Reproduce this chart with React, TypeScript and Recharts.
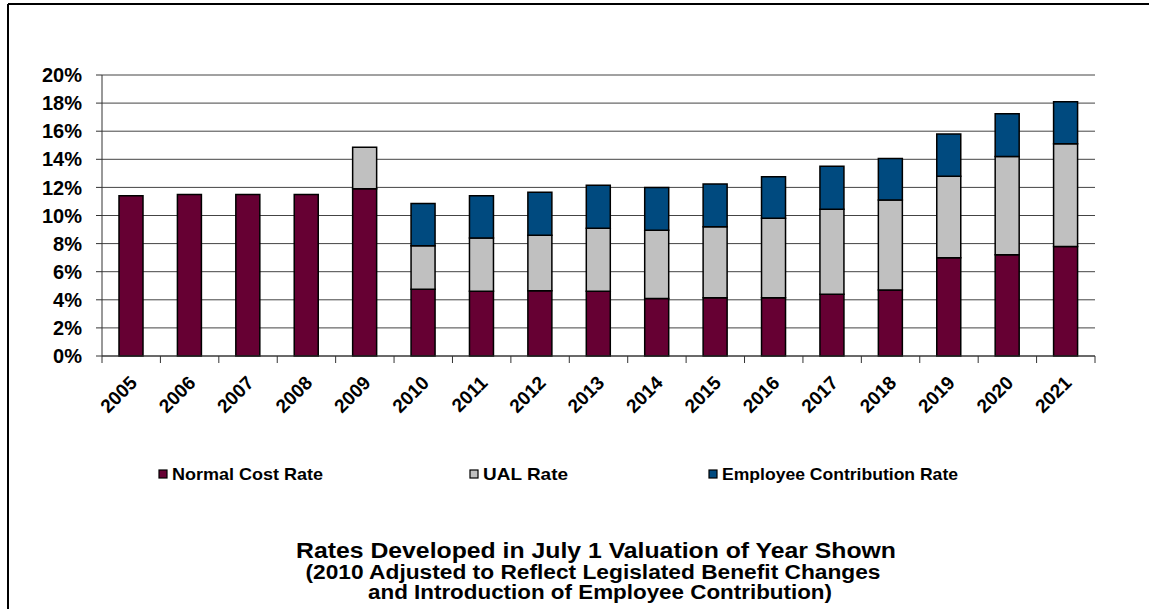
import React from 'react';
import { BarChart, Bar, XAxis, YAxis, CartesianGrid } from 'recharts';

const years = ['2005', '2006', '2007', '2008', '2009', '2010', '2011', '2012', '2013', '2014', '2015', '2016', '2017', '2018', '2019', '2020', '2021'];
const normalCost = [11.4, 11.5, 11.5, 11.5, 11.9, 4.75, 4.6, 4.65, 4.6, 4.1, 4.15, 4.15, 4.4, 4.7, 7.0, 7.2, 7.8];
const ualRate = [0, 0, 0, 0, 2.95, 3.1, 3.8, 3.95, 4.5, 4.85, 5.05, 5.65, 6.05, 6.4, 5.8, 7.0, 7.3];
const employeeRate = [0, 0, 0, 0, 0, 3.0, 3.0, 3.05, 3.05, 3.05, 3.05, 2.95, 3.05, 2.95, 3.0, 3.05, 3.0];
const yTicks = [0, 2, 4, 6, 8, 10, 12, 14, 16, 18, 20];

const seriesNames = ['Normal Cost Rate', 'UAL Rate', 'Employee Contribution Rate'];
const seriesColors = ['#660033', '#C0C0C0', '#004A7F'];

const titleLines = [
  'Rates Developed in July 1 Valuation of Year Shown',
  '(2010 Adjusted to Reflect Legislated Benefit Changes',
  'and Introduction of Employee Contribution)',
];

const data = years.map((year, i) => ({
  year,
  normal: normalCost[i],
  ual: ualRate[i],
  employee: employeeRate[i],
}));

const FONT = '"Liberation Sans", Arial, sans-serif';

const YearTick = (props: any) => {
  const { x, y, payload, index } = props;
  const half = payload && payload.offset ? payload.offset : 993 / 17 / 2;
  const lx = x + 7;
  const ly = y + 28;
  return (
    <g>
      {index === 0 && <line x1={x - half} y1={y} x2={x - half} y2={y + 7} stroke="#333" strokeWidth={1} />}
      <line x1={x + half} y1={y} x2={x + half} y2={y + 7} stroke="#333" strokeWidth={1} />
      <text
        x={lx}
        y={ly}
        textAnchor="end"
        transform={`rotate(-45, ${lx}, ${ly})`}
        fontSize={19}
        fontWeight="bold"
        fontFamily={FONT}
        fill="#000"
      >
        {payload.value}
      </text>
    </g>
  );
};

const legendX = [159, 470, 709];
const legendWidths = [151, 85, 236];

const App: React.FC = () => {
  return (
    <div style={{ position: 'absolute', left: 0, top: 0, width: 1149, height: 609, background: '#fff' }}>
      <BarChart
        width={1149}
        height={609}
        data={data}
        margin={{ top: 75, right: 54, bottom: 0, left: 0 }}
      >
        <CartesianGrid vertical={false} stroke="#444" strokeWidth={1} />
        <YAxis
          width={102}
          domain={[0, 20]}
          ticks={yTicks}
          interval={0}
          tickFormatter={(v: number) => `${v}%`}
          tickSize={6}
          tickMargin={14}
          tick={{ fontSize: 20, fontWeight: 'bold', fill: '#000', fontFamily: FONT }}
          axisLine={{ stroke: '#333' }}
          tickLine={{ stroke: '#333' }}
        />
        <YAxis
          yAxisId="frame"
          orientation="right"
          width={0}
          domain={[0, 1]}
          tick={false}
          tickLine={false}
          axisLine={{ stroke: '#555' }}
        />
        <XAxis
          dataKey="year"
          height={253}
          interval={0}
          tickLine={false}
          tickSize={0}
          tickMargin={0}
          axisLine={{ stroke: '#333' }}
          tick={<YearTick />}
        />
        <Bar dataKey="normal" name={seriesNames[0]} stackId="a" fill={seriesColors[0]} stroke="#000" strokeWidth={1.5} barSize={24} isAnimationActive={false} />
        <Bar dataKey="ual" name={seriesNames[1]} stackId="a" fill={seriesColors[1]} stroke="#000" strokeWidth={1.5} barSize={24} isAnimationActive={false} />
        <Bar dataKey="employee" name={seriesNames[2]} stackId="a" fill={seriesColors[2]} stroke="#000" strokeWidth={1.5} barSize={24} isAnimationActive={false} />
      </BarChart>

      <svg width={1149} height={609} style={{ position: 'absolute', left: 0, top: 0, pointerEvents: 'none' }}>
        {/* outer chart frame: top and left edges only are visible */}
        <line x1={8} y1={4} x2={1149} y2={4} stroke="#000" strokeWidth={2} />
        <line x1={8} y1={4} x2={8} y2={609} stroke="#000" strokeWidth={2} />

        {seriesNames.map((name, i) => (
          <g key={name}>
            <rect x={legendX[i]} y={470} width={8} height={8} fill={seriesColors[i]} stroke="#000" strokeWidth={1.2} />
            <text
              x={legendX[i] + 13}
              y={480}
              fontSize={17}
              fontWeight="bold"
              fontFamily={FONT}
              fill="#000"
              textLength={legendWidths[i]}
              lengthAdjust="spacingAndGlyphs"
            >
              {name}
            </text>
          </g>
        ))}

        <text x={596} y={558} textAnchor="middle" fontSize={22} fontWeight="bold" fontFamily={FONT} fill="#000" textLength={600} lengthAdjust="spacingAndGlyphs">
          {titleLines[0]}
        </text>
        <text x={593} y={579} textAnchor="middle" fontSize={20} fontWeight="bold" fontFamily={FONT} fill="#000" textLength={575} lengthAdjust="spacingAndGlyphs">
          {titleLines[1]}
        </text>
        <text x={600} y={599} textAnchor="middle" fontSize={20} fontWeight="bold" fontFamily={FONT} fill="#000" textLength={464} lengthAdjust="spacingAndGlyphs">
          {titleLines[2]}
        </text>
      </svg>
    </div>
  );
};

export default App;
